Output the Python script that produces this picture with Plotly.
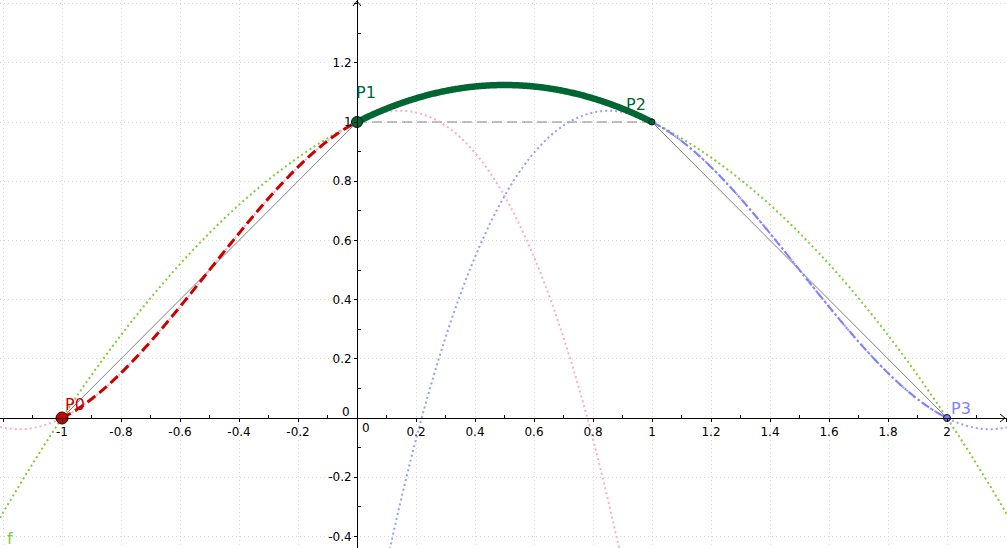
import numpy as np
import plotly.graph_objects as go

# ---------------- data ----------------
point_names = ["P0", "P1", "P2", "P3"]
point_x = [-1.0, 0.0, 1.0, 2.0]
point_y = [0.0, 1.0, 1.0, 0.0]
tangent_slopes = [0.5, 0.5, -0.5, -0.5]

x_tick_vals = [-1.2, -1, -0.8, -0.6, -0.4, -0.2, 0.2, 0.4, 0.6, 0.8, 1, 1.2, 1.4, 1.6, 1.8, 2, 2.2]
x_tick_text = ["", "-1", "-0.8", "-0.6", "-0.4", "-0.2", "0.2", "0.4", "0.6", "0.8",
               "1", "1.2", "1.4", "1.6", "1.8", "2", ""]
y_tick_vals = [-0.4, -0.2, 0.2, 0.4, 0.6, 0.8, 1, 1.2, 1.4]
y_tick_text = ["-0.4", "-0.2", "0.2", "0.4", "0.6", "0.8", "1", "1.2", ""]
x_minor_vals = [-1.1, -0.9, -0.7, -0.5, -0.3, -0.1, 0.1, 0.3, 0.5, 0.7, 0.9,
                1.1, 1.3, 1.5, 1.7, 1.9, 2.1]
y_minor_vals = [-0.3, -0.1, 0.1, 0.3, 0.5, 0.7, 0.9, 1.1, 1.3]

X_RANGE = [-1.2102, 2.2034]
Y_RANGE = [-0.4392, 1.4122]
W, H = 1007, 548

# ---------------- styles ----------------
C_F = "#80cc33"
C_PINK = "#ffaacc"
C_BLUE_DOT = "#9999ff"
C_BLUE = "#8080ff"
C_RED = "#cc0000"
C_DGREEN = "#006633"
C_GRAY = "#808080"
FONT = "DejaVu Sans"


def hermite(i, xs):
    x0, x1 = point_x[i], point_x[i + 1]
    y0, y1 = point_y[i], point_y[i + 1]
    h = x1 - x0
    m0, m1 = tangent_slopes[i] * h, tangent_slopes[i + 1] * h
    t = (np.asarray(xs) - x0) / h
    h00 = 2 * t**3 - 3 * t**2 + 1
    h10 = t**3 - 2 * t**2 + t
    h01 = -2 * t**3 + 3 * t**2
    h11 = t**3 - t**2
    return h00 * y0 + h10 * m0 + h01 * y1 + h11 * m1


xs_full = np.linspace(X_RANGE[0], X_RANGE[1], 1200)

fig = go.Figure()

# control polygon
fig.add_trace(go.Scatter(x=point_x[0:2], y=point_y[0:2], mode="lines",
                         line=dict(color=C_GRAY, width=1), hoverinfo="skip"))
fig.add_trace(go.Scatter(x=point_x[2:4], y=point_y[2:4], mode="lines",
                         line=dict(color=C_GRAY, width=1), hoverinfo="skip"))
fig.add_trace(go.Scatter(x=point_x[1:3], y=point_y[1:3], mode="lines",
                         line=dict(color=C_GRAY, width=1, dash="10px,5px"), hoverinfo="skip"))

# extended segment polynomials (dotted)
for i, col in [(1, C_F), (0, C_PINK), (2, C_BLUE_DOT)]:
    fig.add_trace(go.Scatter(x=xs_full, y=hermite(i, xs_full), mode="lines",
                             line=dict(color=col, width=2, dash="2px,3px", simplify=False),
                             hoverinfo="skip"))

# spline segments
seg0 = np.linspace(point_x[0], point_x[1], 300)
fig.add_trace(go.Scatter(x=seg0, y=hermite(0, seg0), mode="lines",
                         line=dict(color=C_RED, width=3, dash="10px,5px", simplify=False),
                         hoverinfo="skip"))
seg2 = np.linspace(point_x[2], point_x[3], 300)
fig.add_trace(go.Scatter(x=seg2, y=hermite(2, seg2), mode="lines",
                         line=dict(color=C_BLUE, width=2, dash="9px,3px,2px,3px", simplify=False),
                         hoverinfo="skip"))
seg1 = np.linspace(point_x[1], point_x[2], 300)
fig.add_trace(go.Scatter(x=seg1, y=hermite(1, seg1), mode="lines",
                         line=dict(color=C_DGREEN, width=6.5, simplify=False),
                         hoverinfo="skip"))

# axis arrows (chevrons at the axis ends)
px_x = W / (X_RANGE[1] - X_RANGE[0])
px_y = H / (Y_RANGE[1] - Y_RANGE[0])
ax_tip = X_RANGE[1] - 2 / px_x
fig.add_trace(go.Scatter(x=[ax_tip - 5 / px_x, ax_tip, ax_tip - 5 / px_x],
                         y=[4 / px_y, 0, -4 / px_y], mode="lines",
                         line=dict(color="black", width=1), hoverinfo="skip"))
ay_tip = Y_RANGE[1] - 1 / px_y
fig.add_trace(go.Scatter(x=[-4 / px_x, 0, 4 / px_x],
                         y=[ay_tip - 5 / px_y, ay_tip, ay_tip - 5 / px_y], mode="lines",
                         line=dict(color="black", width=1), hoverinfo="skip"))

# points
point_fill = [C_RED, C_DGREEN, C_DGREEN, C_BLUE]
point_size = [12, 11, 6, 7]
fig.add_trace(go.Scatter(x=point_x, y=point_y, mode="markers",
                         marker=dict(color=point_fill, size=point_size, opacity=1,
                                     line=dict(color="#111111", width=1)),
                         hoverinfo="skip"))

# labels
label_color = [C_RED, C_DGREEN, C_DGREEN, C_BLUE]
label_shift = [(13, 14), (9, 30), (-16, 18), (14, 10)]
for n, x, y, c, (dx, dy) in zip(point_names, point_x, point_y, label_color, label_shift):
    fig.add_annotation(x=x, y=y, text=n, showarrow=False, xshift=dx, yshift=dy,
                       font=dict(family=FONT, size=16, color=c))

fig.add_annotation(x=5 / W, y=10 / H, xref="paper", yref="paper", text="f",
                   showarrow=False, xanchor="left", yanchor="middle",
                   font=dict(family=FONT, size=16, color=C_F))

# origin labels
fig.add_annotation(x=0, y=0, text="0", showarrow=False, xshift=8.5, yshift=-10,
                   font=dict(family=FONT, size=12, color="black"))
fig.add_annotation(x=0, y=0, text="0", showarrow=False, xshift=-11.5, yshift=6,
                   font=dict(family=FONT, size=12, color="black"))

x_pos = (0 - Y_RANGE[0]) / (Y_RANGE[1] - Y_RANGE[0])
y_pos = (0 - X_RANGE[0]) / (X_RANGE[1] - X_RANGE[0])

grid_style = dict(showgrid=True, gridcolor="#d6d6d6", griddash="1px,3px", gridwidth=1)

fig.update_layout(
    width=W, height=H, autosize=False,
    margin=dict(l=0, r=0, t=0, b=0, pad=0),
    paper_bgcolor="white", plot_bgcolor="white",
    showlegend=False,
    font=dict(family=FONT, size=12, color="black"),
    xaxis=dict(range=X_RANGE, anchor="free", position=x_pos,
               tickmode="array", tickvals=x_tick_vals, ticktext=x_tick_text,
               ticks="outside", ticklen=3, tickcolor="black", tickwidth=1,
               showline=True, linecolor="black", linewidth=1,
               zeroline=False, fixedrange=True,
               minor=dict(tickmode="array", tickvals=x_minor_vals, ticks="inside",
                          ticklen=3, tickcolor="black", showgrid=False),
               tickfont=dict(family=FONT, size=12, color="black"),
               **grid_style),
    yaxis=dict(range=Y_RANGE, anchor="free", position=y_pos,
               tickmode="array", tickvals=y_tick_vals, ticktext=y_tick_text,
               ticks="outside", ticklen=3, tickcolor="black", tickwidth=1,
               showline=True, linecolor="black", linewidth=1,
               zeroline=False, fixedrange=True,
               minor=dict(tickmode="array", tickvals=y_minor_vals, ticks="inside",
                          ticklen=3, tickcolor="black", showgrid=False),
               tickfont=dict(family=FONT, size=12, color="black"),
               **grid_style),
)

fig.write_html("out.html", config={"displayModeBar": False},
               post_script="document.body.style.margin='0';document.body.style.overflow='hidden';")
